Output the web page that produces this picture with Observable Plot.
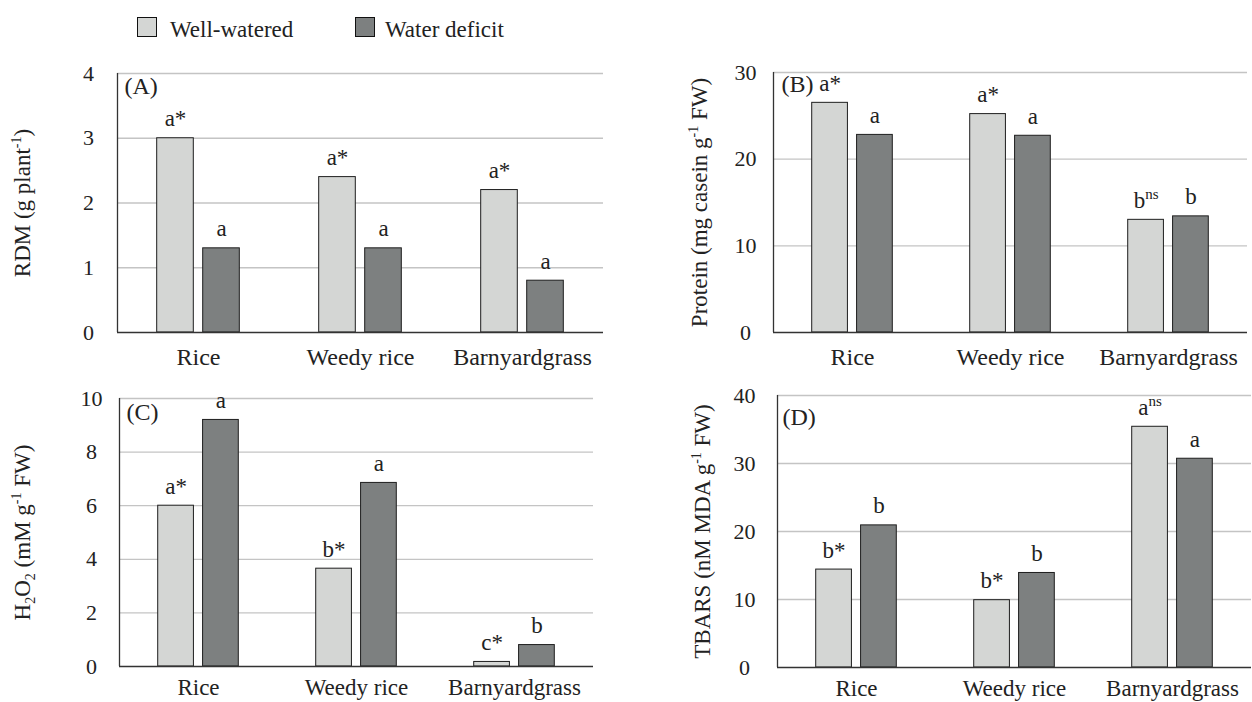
<!DOCTYPE html>
<html>
<head>
<meta charset="utf-8">
<script src="https://cdn.jsdelivr.net/npm/d3@7"></script>
<script src="https://cdn.jsdelivr.net/npm/@observablehq/plot@0.6"></script>
<style>
  html, body { margin: 0; padding: 0; background: #fff; }
  #fig { position: relative; width: 1252px; height: 702px; overflow: hidden;
         font-family: "Liberation Serif", "Times New Roman", serif; color: #222; }
  #fig svg { position: absolute; overflow: visible; }
  .sw { position: absolute; box-sizing: border-box; border: 1.6px solid #111; }
  .lt { position: absolute; font-size: 23px; line-height: 23px; white-space: nowrap; color: #222; }
</style>
</head>
<body>
<div id="fig"></div>
<script>
// ---------- data ----------
const categories = ["Rice", "Weedy rice", "Barnyardgrass"];
const seriesNames = ["Well-watered", "Water deficit"];

// (A) RDM
const rdmWW = [3.0, 2.4, 2.2];
const rdmWD = [1.3, 1.3, 0.8];
const rdmLetWW = ["a*", "a*", "a*"];
const rdmLetWD = ["a", "a", "a"];
const rdmTicks = [0, 1, 2, 3, 4];

// (B) Protein
const proteinWW = [26.5, 25.2, 13.0];
const proteinWD = [22.8, 22.7, 13.4];
const proteinLetWW = ["a*", "a*", "bns"];
const proteinLetWD = ["a", "a", "b"];
const proteinTicks = [0, 10, 20, 30];

// (C) H2O2
const h2o2WW = [6.0, 3.65, 0.17];
const h2o2WD = [9.2, 6.85, 0.8];
const h2o2LetWW = ["a*", "b*", "c*"];
const h2o2LetWD = ["a", "a", "b"];
const h2o2Ticks = [0, 2, 4, 6, 8, 10];

// (D) TBARS
const tbarsWW = [14.4, 9.9, 35.4];
const tbarsWD = [20.9, 13.9, 30.7];
const tbarsLetWW = ["b*", "b*", "ans"];
const tbarsLetWD = ["b", "b", "a"];
const tbarsTicks = [0, 10, 20, 30, 40];

// axis label pieces: [text, kind]
const rdmLabel = [["RDM (g plant", ""], ["-1", "sup"], [")", ""]];
const proteinLabel = [["Protein (mg casein g", ""], ["-1", "sup"], [" FW)", ""]];
const h2o2Label = [["H", ""], ["2", "sub"], ["O", ""], ["2", "sub"], [" (mM g", ""], ["-1", "sup"], [" FW)", ""]];
const tbarsLabel = [["TBARS (nM MDA g", ""], ["-1", "sup"], [" FW)", ""]];

// ---------- style ----------
const FONT = '"Liberation Serif", "Times New Roman", serif';
const WW_FILL = "#d4d6d4";
const WD_FILL = "#7d8080";
const BAR_STROKE = "#1e1e1e";
const GRID = "#c4c4c4";
const AXIS = "#333";

const fig = document.getElementById("fig");

// legend
const legendPos = [{sw: 137, tx: 170}, {sw: 355, tx: 385}];
seriesNames.forEach((name, i) => {
  const sw = document.createElement("div");
  sw.className = "sw";
  sw.style.left = legendPos[i].sw + "px";
  sw.style.top = "17px";
  sw.style.width = "20px";
  sw.style.height = "20px";
  sw.style.background = i === 0 ? WW_FILL : WD_FILL;
  fig.appendChild(sw);
  const t = document.createElement("div");
  t.className = "lt";
  t.style.left = legendPos[i].tx + "px";
  t.style.top = "18px";
  t.textContent = name;
  fig.appendChild(t);
});

function applyRich(textEl, segs, small, supShift, subShift) {
  const s = d3.select(textEl);
  s.text(null);
  let cur = 0;
  for (const [str, kind] of segs) {
    const target = kind === "sup" ? supShift : kind === "sub" ? subShift : 0;
    const ts = s.append("tspan").text(str);
    if (target !== cur) ts.attr("dy", (target - cur) + "px");
    if (kind) ts.attr("font-size", small + "px");
    cur = target;
  }
}

function panel(cfg) {
  const {ww, wd, lww, lwd, ticks, labelSegs, tag, left, top, width, height,
         ml, mr, mt, mb, tickPad, labelOffset, tagDx, tagDy, xPad, xFont} = cfg;
  const band = (width - ml - mr) / categories.length;
  const outer = 0.245 * band, barW = 0.226 * band, gap = 0.058 * band;
  const rows = (vals, lets, s) => categories.map((c, i) => ({cat: c, series: seriesNames[s], value: vals[i], letter: lets[i]}));
  const dWW = rows(ww, lww, 0), dWD = rows(wd, lwd, 1);
  const labelStr = labelSegs.map(d => d[0]).join("");
  const svg = Plot.plot({
    width, height,
    marginLeft: ml, marginRight: mr, marginTop: mt, marginBottom: mb,
    style: {fontFamily: FONT, fontSize: "22px", color: "#222", background: "transparent", overflow: "visible"},
    x: {domain: categories, padding: 0, axis: null},
    y: {domain: [0, d3.max(ticks)], axis: null},
    color: {domain: seriesNames, range: [WW_FILL, WD_FILL]},
    marks: [
      Plot.ruleY(ticks.filter(t => t > 0), {stroke: GRID, strokeWidth: 1.3}),
      Plot.barY(dWW, {x: "cat", y: "value", fill: "series", stroke: BAR_STROKE, strokeWidth: 1,
                      insetLeft: outer, insetRight: band - outer - barW}),
      Plot.barY(dWD, {x: "cat", y: "value", fill: "series", stroke: BAR_STROKE, strokeWidth: 1,
                      insetLeft: outer + barW + gap, insetRight: band - outer - 2 * barW - gap}),
      Plot.text(dWW, {x: "cat", y: "value", text: "letter", dx: -(band / 2 - outer - barW / 2), dy: -12,
                      lineAnchor: "bottom", fontSize: 23, fill: "#222"}),
      Plot.text(dWD, {x: "cat", y: "value", text: "letter", dx: (outer + 1.5 * barW + gap) - band / 2, dy: -12,
                      lineAnchor: "bottom", fontSize: 23, fill: "#222"}),
      Plot.ruleY([0], {stroke: AXIS, strokeWidth: 1.3}),
      Plot.ruleX([categories[0]], {dx: -band / 2, stroke: AXIS, strokeWidth: 1.3}),
      Plot.axisX({tickSize: 0, tickPadding: xPad, fontSize: xFont, label: null}),
      Plot.axisY({ticks, tickSize: 0, tickPadding: tickPad, textAnchor: "middle", fontSize: 22,
                  tickFormat: d3.format("d"),
                  label: labelStr, labelAnchor: "center", labelOffset, labelArrow: "none"}),
      Plot.text([tag], {frameAnchor: "top-left", dx: tagDx, dy: tagDy, lineAnchor: "top",
                        textAnchor: "start", fontSize: 24, fill: "#222"})
    ]
  });
  svg.style.left = left + "px";
  svg.style.top = top + "px";
  // rich y label
  const lab = svg.querySelector('g[aria-label="y-axis label"] text');
  if (lab) { lab.setAttribute("font-size", "23"); applyRich(lab, labelSegs, 14, -9, 5); }
  // superscript "ns"
  svg.querySelectorAll("text").forEach(t => {
    const m = /^([a-z])ns$/.exec(t.textContent);
    if (m && !t.querySelector("tspan")) applyRich(t, [[m[1], ""], ["ns", "sup"]], 15, -9, 0);
  });
  fig.appendChild(svg);
}

panel({ww: rdmWW, wd: rdmWD, lww: rdmLetWW, lwd: rdmLetWD, ticks: rdmTicks, labelSegs: rdmLabel, tag: "(A)",
       left: 0, top: 50, width: 626, height: 325, ml: 117, mr: 23, mt: 23, mb: 43,
       tickPad: 29, labelOffset: 104, tagDx: 7, tagDy: 3, xPad: 15, xFont: 24});
panel({ww: proteinWW, wd: proteinWD, lww: proteinLetWW, lwd: proteinLetWD, ticks: proteinTicks, labelSegs: proteinLabel, tag: "(B)",
       left: 626, top: 50, width: 626, height: 325, ml: 147, mr: 5, mt: 22, mb: 43,
       tickPad: 28, labelOffset: 83, tagDx: 8, tagDy: 2, xPad: 15, xFont: 24});
panel({ww: h2o2WW, wd: h2o2WD, lww: h2o2LetWW, lwd: h2o2LetWD, ticks: h2o2Ticks, labelSegs: h2o2Label, tag: "(C)",
       left: 0, top: 375, width: 626, height: 327, ml: 119, mr: 33, mt: 23, mb: 36,
       tickPad: 28, labelOffset: 106, tagDx: 7, tagDy: 4, xPad: 12, xFont: 23});
panel({ww: tbarsWW, wd: tbarsWD, lww: tbarsLetWW, lwd: tbarsLetWD, ticks: tbarsTicks, labelSegs: tbarsLabel, tag: "(D)",
       left: 626, top: 375, width: 626, height: 327, ml: 151, mr: 1, mt: 20, mb: 35,
       tickPad: 33, labelOffset: 84, tagDx: 5, tagDy: 12, xPad: 12, xFont: 23});
</script>
</body>
</html>
